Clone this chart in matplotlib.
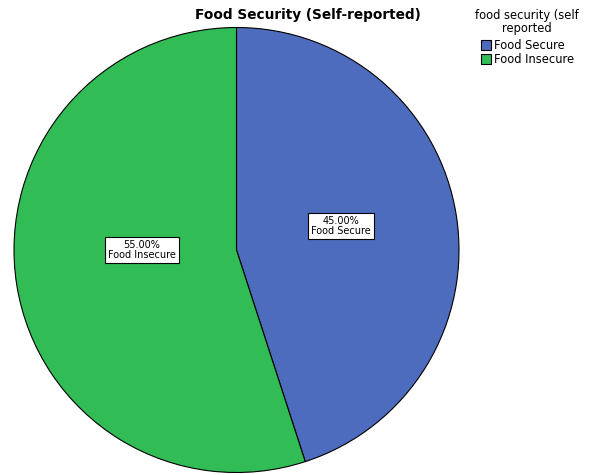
import matplotlib
matplotlib.use("Agg")
import matplotlib.pyplot as plt

# data
categories = ["Food Secure", "Food Insecure"]
shares = [45.0, 55.0]
colors = ["#4d6cbd", "#31bc56"]
# where the value boxes sit, in pie units
label_pos = [(0.47, 0.108), (-0.425, 0.0)]

W, H = 592, 475
fig = plt.figure(figsize=(W / 100, H / 100), dpi=100)

# pie area: centre ~ (236.5, 250) px, radius ~ 222.5 px
cx, cy, r = 236.5, 250, 222.5
ax = fig.add_axes([(cx - r) / W, 1 - (cy + r) / H, 2 * r / W, 2 * r / H])

wedges, texts = ax.pie(
    shares, colors=colors, startangle=90, counterclock=False, radius=1.0,
    wedgeprops=dict(edgecolor="black", linewidth=0.8),
    labels=[f"{v:.2f}%\n{c}" for v, c in zip(shares, categories)],
    labeldistance=0.46,
    textprops=dict(fontsize=7.0, ha="center", va="center", linespacing=1.1,
                   bbox=dict(boxstyle="square,pad=0.3", fc="white", ec="black", lw=0.8)),
)
for t, p in zip(texts, label_pos):
    t.set_horizontalalignment("center")
    t.set_position(p)
ax.set_xlim(-1, 1)
ax.set_ylim(-1, 1)
ax.set_aspect("equal")
ax.axis("off")

fig.text(307.5 / W, 1 - 15 / H, "Food Security (Self-reported)", ha="center", va="center",
         fontsize=9.8, fontweight="bold")

# legend title, centred over the entries
fig.text(527 / W, 1 - 22 / H, "food security (self\nreported", ha="center", va="center",
         fontsize=8.3, linespacing=1.0)
fig.legend(wedges, categories,
           loc="upper left", bbox_to_anchor=(473 / W, 1 - 31 / H),
           frameon=False, fontsize=8.3,
           handlelength=0.9, handleheight=1.0, handletextpad=0.2,
           labelspacing=0.1, borderpad=0.2)

fig.savefig("out.png", dpi=100)
